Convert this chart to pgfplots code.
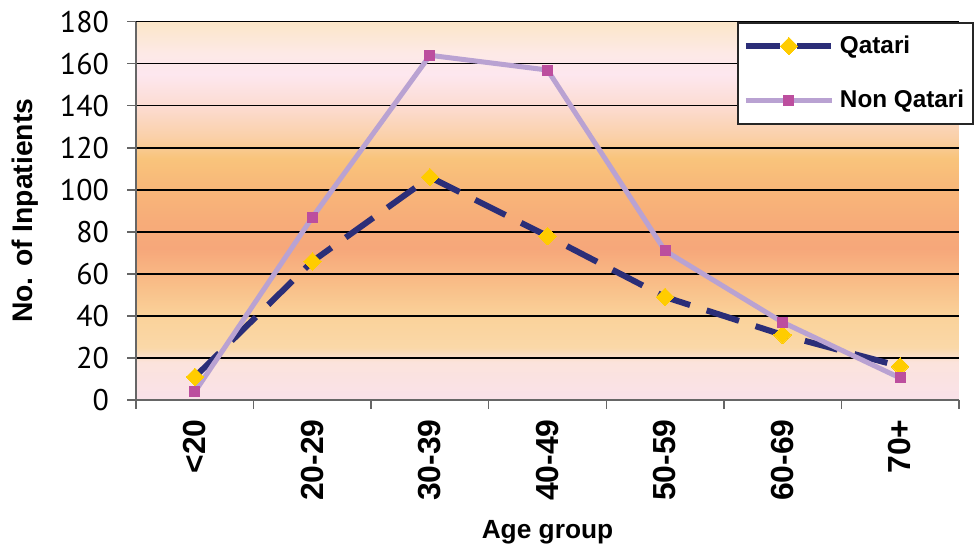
\documentclass[border=0pt]{standalone}
\usepackage{fontspec}
\setmainfont{Liberation Sans}
\newfontfamily\tickfont{PT Sans}
\usepackage{pgfplots}
\pgfplotsset{compat=1.18}

\definecolor{qnavy}{HTML}{2B2E78}
\definecolor{qyellow}{HTML}{FFCC00}
\definecolor{nqline}{HTML}{B9A2D2}
\definecolor{nqmark}{HTML}{BC4E9E}

\definecolor{s000}{HTML}{F9E1E9}
\definecolor{s018}{HTML}{FBE3DC}
\definecolor{s025}{HTML}{FAD8A8}
\definecolor{s040}{HTML}{FAD29A}
\definecolor{s055}{HTML}{F9BE88}
\definecolor{s072}{HTML}{F6A77A}
\definecolor{s085}{HTML}{F7AC79}
\definecolor{s100}{HTML}{F8B679}
\definecolor{s115}{HTML}{F9C47B}
\definecolor{s125}{HTML}{FAD0A8}
\definecolor{s140}{HTML}{FCDCD2}
\definecolor{s155}{HTML}{FDE7EF}
\definecolor{s165}{HTML}{FDE9E6}
\definecolor{s180}{HTML}{FBE6C8}

\pgfdeclareverticalshading{bgshade}{100bp}{%
color(0bp)=(s000); color(25bp)=(s000); color(30bp)=(s018); color(31.94bp)=(s025);
color(36.11bp)=(s040); color(40.28bp)=(s055); color(45bp)=(s072); color(48.61bp)=(s085);
color(52.78bp)=(s100); color(56.94bp)=(s115); color(59.72bp)=(s125); color(63.89bp)=(s140);
color(68.06bp)=(s155); color(70.83bp)=(s165); color(75bp)=(s180); color(100bp)=(s180)}

\begin{document}
\begin{tikzpicture}
\begin{axis}[
  scale only axis,
  width=411.25bp, height=189.15bp,
  xmin=-0.5, xmax=6.5, ymin=0, ymax=180,
  clip=false,
  axis lines*=left,
  axis line style={draw=gray!80!black, line width=1bp},
  axis background/.style={shading=bgshade},
  ytick={0,20,...,180},
  xtick={0,...,6},
  xticklabels={{<20},{20-29},{30-39},{40-49},{50-59},{60-69},{70+}},
  minor xtick={-0.5,0.5,...,6.5},
  tick align=outside,
  major tick length=4.5bp,
  minor tick length=4.5bp,
  major x tick style={draw=none},
  minor x tick style={draw=gray!80!black, line width=0.75bp},
  y tick style={draw=gray!80!black, line width=0.75bp},
  ymajorgrids,
  major grid style={black, line width=0.75bp},
  /pgf/number format/assume math mode=true,
  yticklabel style={font=\tickfont\fontsize{15}{15}\selectfont, inner sep=0pt, xshift=-9bp},
  xticklabel style={rotate=90, anchor=east, inner sep=0pt, font=\bfseries\fontsize{16}{16}\selectfont},
  xticklabel shift=5bp,
  xlabel={Age group},
  ylabel={No. of Inpatients},
  xlabel style={at={(rel axis cs:0.5,-0.317)}, anchor=north, inner sep=0pt, font=\bfseries\fontsize{13.2}{13.2}\selectfont},
  ylabel style={at={(rel axis cs:-0.118,0.5)}, anchor=south, inner sep=0pt, font=\bfseries\fontsize{14.2}{14.2}\selectfont},
  legend style={at={(rel axis cs:1.0185,0.999)}, anchor=north east, draw=black!85, line width=0.75bp, fill=white,
    font=\bfseries\fontsize{12.2}{12.2}\selectfont, inner xsep=2.5bp, inner ysep=4.5bp, row sep=13bp,
    /tikz/every odd column/.append style={column sep=0.5bp}},
  legend cell align=left,
  legend image code/.code={\draw[#1,mark repeat=2,mark phase=2] plot coordinates {(0bp,0bp) (21.5bp,0bp) (43bp,0bp)};},
]
\path (rel axis cs:-0.16565,-0.4044) rectangle (rel axis cs:1.01976,1.0573);
\addplot[qnavy, line width=3bp, dash pattern=on 17bp off 8.7bp, mark=square*, mark size=3.1bp,
  mark options={solid, rotate=45, fill=qyellow, draw=qyellow, line width=0pt}]
  coordinates {(0,11) (1,66) (2,106) (3,78) (4,49) (5,31) (6,16)};
\addlegendentry{Qatari}
\addplot[nqline, line width=2.5bp, mark=square*, mark size=2.5bp,
  mark options={fill=nqmark, draw=nqmark, line width=0pt}]
  coordinates {(0,4) (1,87) (2,164) (3,157) (4,71) (5,37) (6,10.5)};
\addlegendentry{Non Qatari}
\end{axis}
\end{tikzpicture}
\end{document}
